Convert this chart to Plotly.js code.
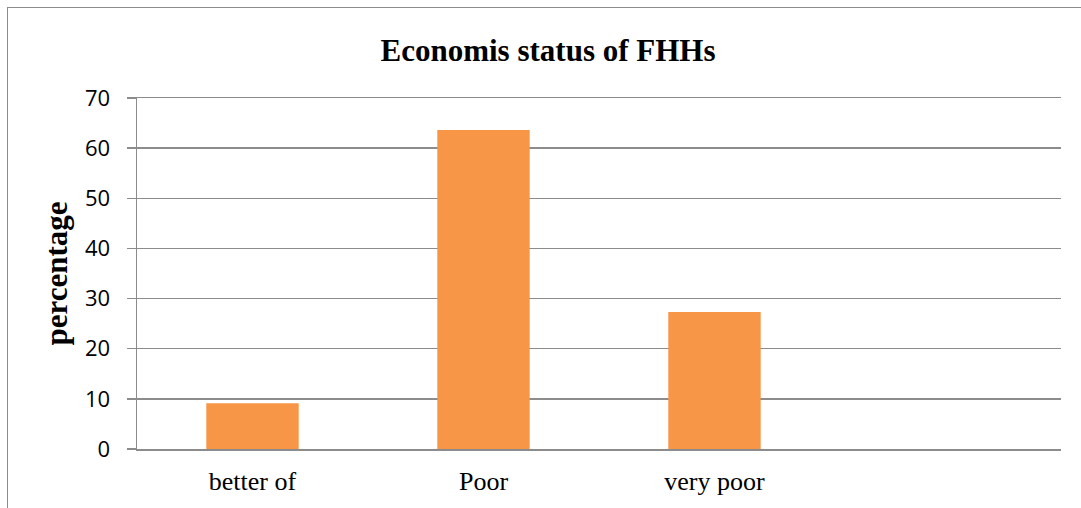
<!DOCTYPE html>
<html><head><meta charset="utf-8">
<script src="https://cdn.plot.ly/plotly-3.0.1.min.js"></script>
<style>
html,body{margin:0;padding:0;background:#fff;overflow:hidden;}
#frame{position:absolute;left:7px;top:7px;width:1100px;height:540px;border:1.5px solid #8c8c8c;}
#chart{position:absolute;left:0;top:0;width:1081px;height:508px;}
</style></head>
<body>
<div id="frame"></div>
<div id="chart"></div>
<script>
const categories = ['better of', 'Poor', 'very poor'];
const percentages = [9.1, 63.6, 27.3];
const yTicks = [0, 10, 20, 30, 40, 50, 60, 70];

const trace = {
  type: 'bar', x: categories, y: percentages,
  marker: {color: '#F79646'}, hoverinfo: 'x+y'
};
const layout = {
  width: 1081, height: 508,
  margin: {l: 137, r: 20, t: 98, b: 59},
  paper_bgcolor: 'rgba(0,0,0,0)', plot_bgcolor: 'rgba(0,0,0,0)',
  bargap: 0.6, showlegend: false,
  title: {text: '<b>Economis status of FHHs</b>', x: 548/1081, xref: 'container', xanchor: 'center',
          y: 1 - 50/508, yref: 'container', yanchor: 'middle',
          font: {family: 'Liberation Serif', size: 31, color: '#000'}},
  xaxis: {type: 'category', categoryorder: 'array', categoryarray: categories, range: [-0.5, 3.5],
          showgrid: false, showline: true, mirror: true, linecolor: '#8c8c8c', linewidth: 1.5,
          zeroline: false, ticks: '', ticklabelstandoff: 8,
          tickfont: {family: 'Liberation Serif', size: 26, color: '#000'}},
  yaxis: {range: [0, 70], tickvals: yTicks, showgrid: true, gridcolor: '#8c8c8c', gridwidth: 1.5,
          showline: true, linecolor: '#8c8c8c', linewidth: 1.5, zeroline: false,
          ticks: 'outside', ticklen: 9, tickwidth: 1.5, tickcolor: '#8c8c8c', ticklabelstandoff: 12,
          tickfont: {family: 'Open Sans', size: 22, color: '#000'},
          title: {text: '<b>percentage</b>', standoff: 8, font: {family: 'Liberation Serif', size: 31, color: '#000'}}}
};
Plotly.newPlot('chart', [trace], layout, {displayModeBar: false, staticPlot: true});
</script>
</body></html>
